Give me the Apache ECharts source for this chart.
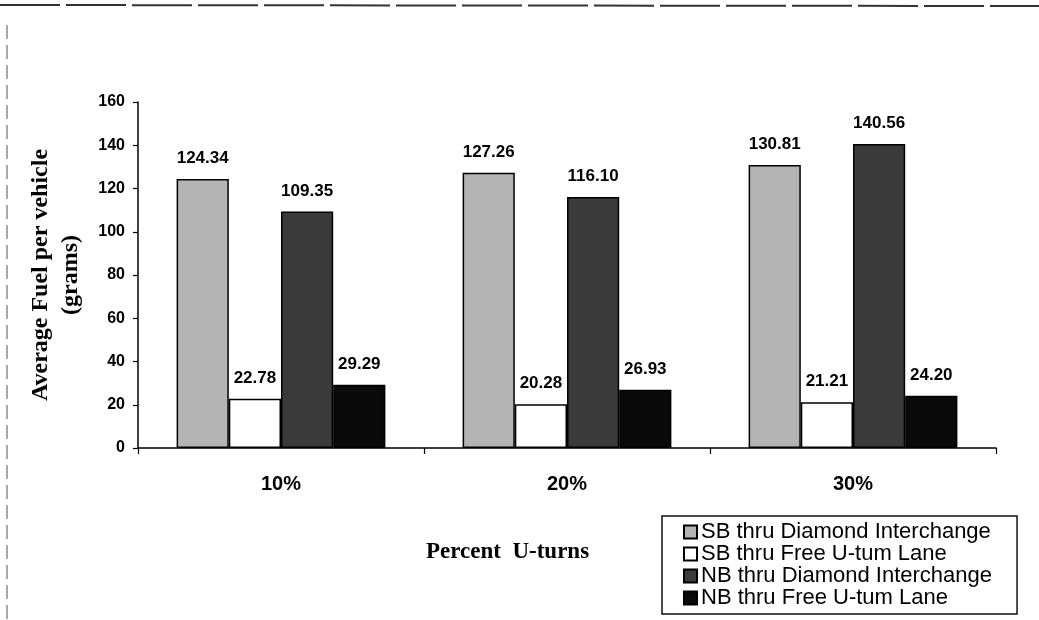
<!DOCTYPE html>
<html>
<head>
<meta charset="utf-8">
<script src="https://cdn.jsdelivr.net/npm/echarts@6/dist/echarts.min.js"></script>
<style>html,body{margin:0;padding:0;background:#fff}#c{width:1039px;height:620px}</style>
</head>
<body>
<div id="c"></div>
<script>
const categories = ['10%', '20%', '30%'];
const legendNames = ['SB thru Diamond Interchange', 'SB thru Free U-tum Lane', 'NB thru Diamond Interchange', 'NB thru Free U-tum Lane'];
const sbDiamond = [124.34, 127.26, 130.81];
const sbFree = [22.78, 20.28, 21.21];
const nbDiamond = [109.35, 116.10, 140.56];
const nbFree = [29.29, 26.93, 24.20];
const yTicks = [0, 20, 40, 60, 80, 100, 120, 140, 160];

const values = [sbDiamond, sbFree, nbDiamond, nbFree];
const fills = ['#b4b4b4', '#ffffff', '#3a3a3a', '#0a0a0a'];

const chart = echarts.init(document.getElementById('c'));
chart.setOption({
  backgroundColor: '#ffffff',
  animation: false,
  grid: { left: 138, right: 43, top: 102, bottom: 172, containLabel: false },
  legend: {
    orient: 'vertical',
    left: 662, top: 516,
    padding: [5, 25, 5, 21],
    itemGap: 0,
    itemWidth: 13, itemHeight: 13,
    borderColor: '#111', borderWidth: 1.5,
    icon: 'rect',
    data: legendNames,
    textStyle: { fontFamily: 'Liberation Sans, Arial, sans-serif', fontSize: 22, lineHeight: 22, color: '#000', padding: [0, 0, 0, -1] }
  },
  xAxis: {
    type: 'category',
    data: categories,
    axisLine: { lineStyle: { color: '#000', width: 1.5 } },
    axisTick: { show: true, length: 6, lineStyle: { color: '#000', width: 1.2 } },
    axisLabel: { margin: 26, color: '#000', fontFamily: 'Liberation Sans, Arial, sans-serif', fontWeight: 'bold', fontSize: 20 }
  },
  yAxis: {
    type: 'value',
    min: 0, max: 160, interval: 20,
    name: 'Average Fuel per vehicle\n(grams)',
    nameLocation: 'middle',
    nameGap: 52,
    nameTextStyle: { fontFamily: 'Liberation Serif, Times New Roman, serif', fontWeight: 'bold', fontSize: 24, color: '#000', lineHeight: 30 },
    splitLine: { show: false },
    axisLine: { show: true, lineStyle: { color: '#000', width: 1.5 } },
    axisTick: { show: true, length: 5, lineStyle: { color: '#000', width: 1.2 } },
    axisLabel: { margin: 13, color: '#000', fontFamily: 'Liberation Sans, Arial, sans-serif', fontWeight: 'bold', fontSize: 16,
      formatter: v => yTicks.includes(v) ? String(v) : '' }
  },
  graphic: [
    { type: 'text', left: 426, top: 541, style: { text: 'Percent  U-turns', fontFamily: 'Liberation Serif, Times New Roman, serif', fontWeight: 'bold', fontSize: 23, fill: '#000' } },
    { type: 'line', shape: { x1: 0, y1: 5, x2: 1039, y2: 6 }, style: { stroke: '#333', lineWidth: 2, lineDash: [60, 6] } },
    { type: 'line', shape: { x1: 7, y1: 25, x2: 7, y2: 620 }, style: { stroke: '#555', lineWidth: 1, lineDash: [14, 6] } }
  ],
  series: values.map((arr, i) => ({
    name: legendNames[i],
    type: 'bar',
    data: arr,
    barGap: '0%',
    barCategoryGap: '27%',
    itemStyle: { color: fills[i], borderColor: '#000', borderWidth: 1.5 },
    label: {
      show: true, position: 'top', distance: 12,
      formatter: p => p.value.toFixed(2),
      color: '#000', fontFamily: 'Liberation Sans, Arial, sans-serif', fontWeight: 'bold', fontSize: 17
    }
  }))
});
</script>
</body>
</html>
